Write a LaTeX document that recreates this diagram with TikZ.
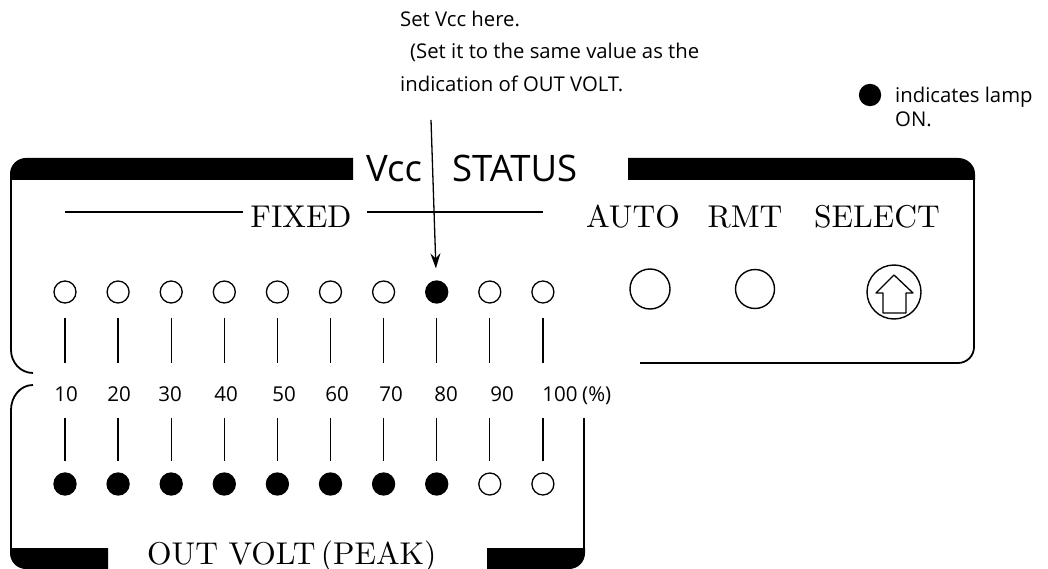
\documentclass[tikz,border=0pt]{standalone}
\usepackage{fontspec}
\newfontfamily\annot{Open Sans}
\newfontfamily\cmten{lmroman10-regular}[Extension=.otf]
\usetikzlibrary{arrows.meta,calc}
\tikzset{
  panel/.style={line width=1.8pt},
  bar/.style={fill=black},
  led/.style={circle,draw,line width=1.3pt,minimum size=22pt,inner sep=0pt},
  ledon/.style={led,fill=black},
  tick/.style={line width=1.3pt},
  serif/.style={font=\cmten\fontsize{31.5}{31.5}\selectfont,inner sep=0pt,anchor=base},
  num/.style={font=\annot\fontsize{20.5}{20.5}\selectfont,inner sep=0pt,anchor=base},
  note/.style={font=\annot\fontsize{20.3}{20.3}\selectfont,inner sep=0pt,anchor=base west},
  btn/.style={circle,draw,line width=1.4pt,inner sep=0pt},
}
\begin{document}
\begin{tikzpicture}[x=1pt,y=-1pt]
\useasboundingbox (0,0) rectangle (1048,569);
% ---------- top panel frame
\fill[bar] (10,180) -- (10,174) to[out=90,in=180] (26,158) -- (353,158) -- (353,180) -- cycle;
\fill[bar] (628,158) -- (958,158) to[out=0,in=90] (975,174) -- (975,180) -- (628,180) -- cycle;
\draw[panel] (11,180) -- (11,350) to[out=-90,in=180] (33,373);
\draw[panel] (974,180) -- (974,347) to[out=-90,in=0] (958,363) -- (640,363);
% ---------- bottom panel frame
\draw[panel] (33,385) to[out=180,in=90] (11,410) -- (11,552);
\fill[bar] (10,548) -- (108,548) -- (108,569) -- (26,569) to[out=180,in=-90] (10,553) -- cycle;
\draw[panel] (584,418) -- (584,552);
\fill[bar] (487,548) -- (585,548) -- (585,553) to[out=-90,in=0] (569,569) -- (487,569) -- cycle;
% ---------- titles
\node[font=\annot\fontsize{36.5}{36.5}\selectfont,inner sep=0pt,anchor=base west] (vcc) at (366,182) {Vcc};
\node[font=\annot\fontsize{36.5}{36.5}\selectfont,inner sep=0pt,anchor=base west] (status) at (452,182) {STATUS};
\node[serif] (fixed) at (301,228) {FIXED};
\coordinate (fl1) at (65,212); \coordinate (fl2) at (243,212);
\coordinate (fr1) at (367,212); \coordinate (fr2) at (543,212);
\draw[line width=1.2pt] (fl1) -- (fl2);
\draw[line width=1.2pt] (fr1) -- (fr2);
\node[serif] (auto) at (633,227) {AUTO};
\node[serif] (rmt) at (745,228) {RMT};
\node[serif] (select) at (877,228) {SELECT};
\node[serif,anchor=base west] (outvolt) at (147,564) {OUT VOLT\,(PEAK)};
% ---------- buttons
\node[btn,minimum size=40pt] (autob) at (650,289) {};
\node[btn,minimum size=39pt] (rmtb) at (755,289) {};
\node[btn,minimum size=54pt] (selb) at (894,292) {};
\draw[line width=1.3pt,line join=round] (894,275) -- (913,293) -- (906,293) -- (906,313) -- (883,313) -- (883,293) -- (876,293) -- cycle;
% ---------- LEDs, ticks, numbers
\foreach \i/\on/\onb/\nx/\lab in {1/0/1/66/10,2/0/1/119/20,3/0/1/170/30,4/0/1/226/40,5/0/1/284/50,6/0/1/337/60,7/0/1/391/70,8/1/1/446/80,9/0/0/502/90,10/0/0/560/100}{
  \pgfmathsetmacro{\xx}{65+53.1*(\i-1)}
  \ifnum\on=1 \node[ledon] (t\i) at (\xx,292) {}; \else \node[led] (t\i) at (\xx,292) {}; \fi
  \ifnum\onb=1 \node[ledon] (b\i) at (\xx,484) {}; \else \node[led] (b\i) at (\xx,484) {}; \fi
  \node[num] (n\i) at (\nx,401) {\lab};
  \draw[tick] ($(t\i)+(0,26)$) -- ($(t\i)+(0,71)$);
  \draw[tick] ($(b\i)+(0,-66)$) -- ($(b\i)+(0,-23)$);
}
\node[num,anchor=base west] (pct) at (582,401) {(\%)};
% ---------- annotation
\node[note] (a1) at (400,27) {Set Vcc here.};
\node[note] (a2) at (410,59) {(Set it to the same value as the};
\node[note] (a3) at (400,92) {indication of OUT VOLT.};
\coordinate (arrtop) at (431,120);
\draw[line width=1.3pt,-{Stealth[length=15pt,width=10pt,inset=5pt]},shorten >=12pt] (arrtop) -- (t8);
% ---------- legend
\node[ledon,minimum size=21pt] (leg) at (870,95) {};
\node[note] (leg1) at (895,103) {indicates lamp};
\node[note] (leg2) at (895,127) {ON.};
\end{tikzpicture}
\end{document}
